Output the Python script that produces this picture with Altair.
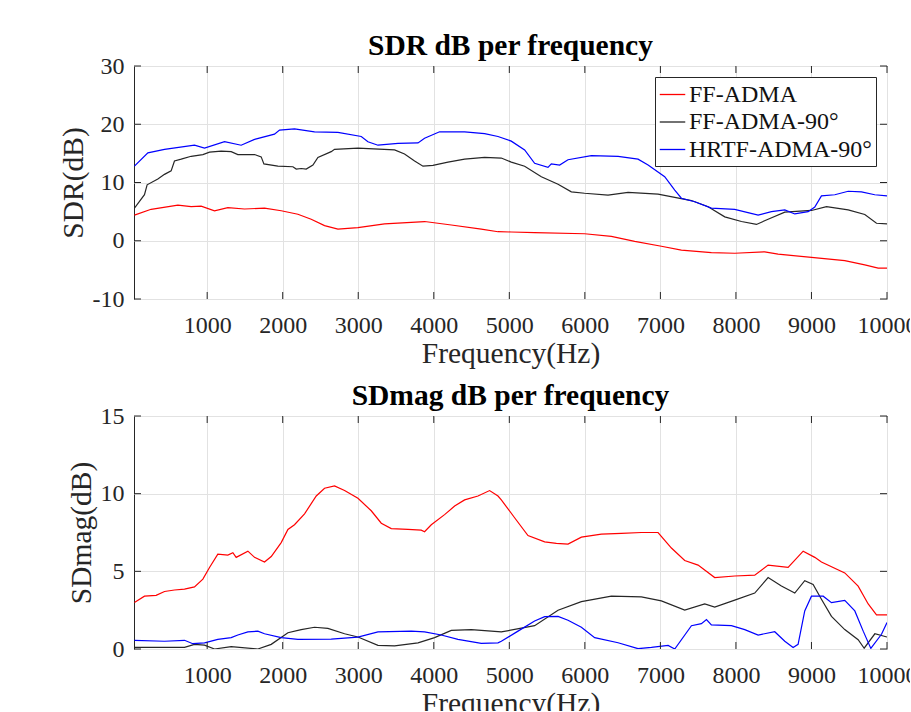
import altair as alt
import pandas as pd

# ---------------- data ----------------
series_names = ["FF-ADMA", "FF-ADMA-90°", "HRTF-ADMA-90°"]
series_colors = ["#ff0000", "#262626", "#0000ff"]

x_ticks = [1000, 2000, 3000, 4000, 5000, 6000, 7000, 8000, 9000, 10000]
sdr_y_ticks = [-10, 0, 10, 20, 30]
sdm_y_ticks = [0, 5, 10, 15]

# SDR panel
sdr_ff_x = [37, 258, 612, 788, 920, 1097, 1274, 1494, 1759, 1980, 2201, 2377, 2554, 2731, 2996,
            3348, 3878, 4232, 4629, 4850, 5026, 5335, 5997, 6351, 6660, 7013, 7278, 7675, 7984,
            8381, 8558, 9000, 9441, 9706, 9883, 10000]
sdr_ff_y = [4.4, 5.4, 6.1, 5.85, 5.95, 5.15, 5.7, 5.45, 5.6, 5.15, 4.55, 3.7, 2.6, 2.0, 2.25,
            2.9, 3.3, 2.7, 2.0, 1.55, 1.5, 1.4, 1.2, 0.75, -0.1, -0.95, -1.6, -2.05, -2.15,
            -1.9, -2.3, -2.85, -3.4, -4.15, -4.7, -4.7]

sdr_ff90_x = [37, 170, 205, 347, 435, 523, 567, 656, 788, 943, 1031, 1185, 1318, 1406, 1627,
              1715, 1751, 1936, 2135, 2179, 2245, 2311, 2400, 2466, 2642, 2686, 2996, 3481, 3613,
              3746, 3857, 3989, 4188, 4408, 4673, 4894, 5026, 5203, 5424, 5645, 5821, 5997, 6307,
              6572, 6969, 7190, 7411, 7632, 7852, 8073, 8272, 8426, 8647, 9000, 9199, 9486, 9706,
              9861, 10000]
sdr_ff90_y = [5.6, 7.9, 9.6, 10.6, 11.4, 12.0, 13.7, 14.0, 14.5, 14.8, 15.2, 15.4, 15.3, 14.8, 14.8,
              14.4, 13.2, 12.8, 12.7, 12.3, 12.4, 12.3, 13.0, 14.3, 15.3, 15.7, 15.9, 15.6, 14.9,
              13.7, 12.8, 12.95, 13.5, 14.0, 14.3, 14.2, 13.5, 12.8, 11.0, 9.7, 8.4, 8.15, 7.85,
              8.3, 8.0, 7.45, 6.9, 5.85, 4.1, 3.3, 2.8, 3.7, 4.9, 5.2, 5.85, 5.3, 4.5,
              3.0, 2.9]

sdr_hrtf_x = [37, 215, 435, 832, 965, 1230, 1450, 1627, 1891, 1958, 2156, 2421, 2731, 3040, 3128,
              3261, 3526, 3791, 3878, 4077, 4408, 4673, 4850, 5026, 5203, 5335, 5512, 5556, 5666,
              5777, 6086, 6440, 6704, 6837, 7057, 7190, 7278, 7455, 7675, 7984, 8294, 8470, 8647,
              8779, 8956, 9044, 9132, 9309, 9486, 9662, 9838, 10000]
sdr_hrtf_y = [12.8, 15.1, 15.7, 16.4, 15.9, 17.0, 16.4, 17.4, 18.3, 19.0, 19.2, 18.7, 18.6, 17.9, 17.0,
              16.4, 16.7, 16.8, 17.6, 18.7, 18.7, 18.4, 17.9, 17.1, 15.6, 13.3, 12.6, 13.2, 13.0,
              13.9, 14.6, 14.5, 14.0, 13.0, 11.0, 8.7, 7.3, 6.7, 5.6, 5.4, 4.4, 5.0, 5.3,
              4.6, 5.0, 5.8, 7.7, 7.9, 8.5, 8.4, 7.9, 7.7]

# SDmag panel
sdm_ff_x = [37, 170, 324, 435, 567, 700, 832, 943, 1031, 1141, 1274, 1340, 1384, 1539, 1627, 1759,
            1848, 1980, 2069, 2156, 2289, 2444, 2554, 2686, 2819, 2996, 3172, 3305, 3437, 3658,
            3834, 3878, 3967, 4143, 4276, 4408, 4585, 4739, 4850, 4894, 5070, 5247, 5468, 5623,
            5777, 5954, 6219, 6483, 6748, 6969, 7146, 7322, 7499, 7719, 7984, 8249, 8426, 8691,
            8890, 9044, 9132, 9441, 9618, 9751, 9861, 10000]
sdm_ff_y = [3.0, 3.4, 3.45, 3.7, 3.8, 3.85, 4.0, 4.5, 5.25, 6.1, 6.05, 6.2, 5.9, 6.3, 5.9, 5.6,
            5.95, 6.85, 7.7, 8.0, 8.7, 9.85, 10.35, 10.5, 10.2, 9.7, 8.9, 8.1, 7.75, 7.7,
            7.65, 7.55, 8.0, 8.65, 9.2, 9.6, 9.85, 10.2, 9.85, 9.6, 8.45, 7.3, 6.9, 6.8,
            6.75, 7.2, 7.4, 7.45, 7.5, 7.5, 6.5, 5.7, 5.4, 4.6, 4.7, 4.75, 5.4, 5.25,
            6.3, 5.9, 5.6, 4.9, 4.05, 2.9, 2.2, 2.2]

sdm_ff90_x = [37, 700, 832, 965, 1097, 1318, 1671, 1848, 2069, 2245, 2421, 2598, 2819, 2996, 3261,
              3481, 3791, 4011, 4232, 4497, 4762, 4894, 5335, 5645, 5954, 6351, 6748, 7013, 7322,
              7587, 7719, 7984, 8249, 8426, 8602, 8779, 8911, 9022, 9132, 9265, 9441, 9618, 9698,
              9839, 10000]
sdm_ff90_y = [0.1, 0.1, 0.3, 0.25, 0.0, 0.15, 0.0, 0.3, 1.05, 1.25, 1.4, 1.33, 0.98, 0.77, 0.23,
              0.2, 0.4, 0.73, 1.2, 1.25, 1.15, 1.1, 1.5, 2.5, 3.05, 3.4, 3.35, 3.1, 2.5,
              2.9, 2.7, 3.15, 3.6, 4.6, 4.05, 3.6, 4.4, 4.15, 3.2, 2.1, 1.25, 0.6, 0.05,
              0.98, 0.77]

sdm_hrtf_x = [37, 435, 700, 810, 965, 1141, 1318, 1406, 1539, 1671, 1759, 1980, 2201, 2642, 2996,
              3261, 3702, 3878, 4099, 4320, 4629, 4850, 4894, 5115, 5335, 5468, 5645, 5777, 5954,
              6130, 6440, 6704, 6881, 7102, 7190, 7411, 7543, 7610, 7675, 7940, 8117, 8294, 8514,
              8647, 8757, 8823, 8911, 9000, 9155, 9265, 9441, 9574, 9685, 9786, 9927, 10000]
sdm_hrtf_y = [0.56, 0.5, 0.56, 0.34, 0.4, 0.62, 0.73, 0.9, 1.1, 1.15, 0.98, 0.73, 0.62, 0.64, 0.77,
              1.1, 1.15, 1.1, 0.9, 0.62, 0.36, 0.4, 0.5, 1.15, 1.8, 2.08, 2.1, 1.85, 1.4,
              0.73, 0.4, 0.02, 0.1, 0.23, 0.0, 1.5, 1.63, 1.9, 1.55, 1.5, 1.25, 0.9, 1.11,
              0.5, 0.1, 0.3, 2.45, 3.4, 3.4, 2.98, 3.13, 2.45, 1.15, 0.04, 0.95, 1.7]


def build_df(parts):
    frames = []
    for name, xs, ys in parts:
        frames.append(pd.DataFrame({"freq": xs, "val": ys, "series": name}))
    return pd.concat(frames, ignore_index=True)


sdr_df = build_df([(series_names[0], sdr_ff_x, sdr_ff_y),
                   (series_names[1], sdr_ff90_x, sdr_ff90_y),
                   (series_names[2], sdr_hrtf_x, sdr_hrtf_y)])
sdm_df = build_df([(series_names[0], sdm_ff_x, sdm_ff_y),
                   (series_names[1], sdm_ff90_x, sdm_ff90_y),
                   (series_names[2], sdm_hrtf_x, sdm_hrtf_y)])

W, H = 753, 233
FONT = "Liberation Serif"
AX = "#262626"
TICK = 7


def panel(df, title, ytitle, ydomain, yticks, show_legend):
    xscale = alt.Scale(domain=[31.25, 10000], nice=False, zero=False)
    yscale = alt.Scale(domain=ydomain, nice=False, zero=False)
    xaxis = alt.Axis(values=x_ticks, title="Frequency(Hz)", labelExpr="datum.value + ''",
                     labelOverlap=False, labelFlush=False)
    yaxis = alt.Axis(values=yticks, title=ytitle, labelExpr="datum.value + ''")
    if show_legend:
        legend = alt.Legend(title=None, orient="top-right", offset=11, padding=4,
                            fillColor="white", strokeColor=AX, symbolType="stroke",
                            symbolSize=650, symbolStrokeWidth=1.3, labelFont=FONT,
                            labelFontSize=24, labelColor="#111111", labelOffset=3,
                            rowPadding=1.5, labelLimit=400)
    else:
        legend = None
    lines = alt.Chart(df).mark_line(clip=True, strokeWidth=1.2).encode(
        x=alt.X("freq:Q", scale=xscale, axis=xaxis, title="Frequency(Hz)"),
        y=alt.Y("val:Q", scale=yscale, axis=yaxis, title=ytitle),
        color=alt.Color("series:N", sort=series_names,
                        scale=alt.Scale(domain=series_names, range=series_colors),
                        legend=legend),
    )
    xt = pd.DataFrame({"t": x_ticks})
    yt = pd.DataFrame({"t": yticks})
    xenc = alt.X("t:Q", scale=xscale, axis=xaxis, title="Frequency(Hz)")
    yenc = alt.Y("t:Q", scale=yscale, axis=yaxis, title=ytitle)
    bt = alt.Chart(xt).mark_rule(color=AX, strokeWidth=1).encode(
        x=xenc, y=alt.value(H), y2=alt.value(H - TICK))
    tt = alt.Chart(xt).mark_rule(color=AX, strokeWidth=1).encode(
        x=xenc, y=alt.value(0), y2=alt.value(TICK))
    lt = alt.Chart(yt).mark_rule(color=AX, strokeWidth=1).encode(
        y=yenc, x=alt.value(0), x2=alt.value(TICK))
    rt = alt.Chart(yt).mark_rule(color=AX, strokeWidth=1).encode(
        y=yenc, x=alt.value(W), x2=alt.value(W - TICK))
    return alt.layer(lines, bt, tt, lt, rt).properties(
        width=W, height=H,
        title=alt.TitleParams(title, font=FONT, fontSize=29.5, fontWeight="bold",
                              color="#000000", offset=-7, anchor="middle"),
    )


top = panel(sdr_df, "SDR dB per frequency", "SDR(dB)", [-10, 30], sdr_y_ticks, True)
bottom = panel(sdm_df, "SDmag dB per frequency", "SDmag(dB)", [0, 15], sdm_y_ticks, False)

chart = alt.vconcat(top, bottom, spacing=12).resolve_scale(
    color="independent", x="independent", y="independent"
).resolve_legend(color="independent").properties(
    padding={"left": 57, "top": 30, "right": -8, "bottom": -7},
    background="white",
).configure_view(
    stroke=AX, strokeWidth=1
).configure_axis(
    labelFont=FONT, labelFontSize=24, labelColor=AX,
    titleFont=FONT, titleFontSize=29.5, titleFontWeight="normal", titleColor=AX,
    ticks=False, domain=False, grid=True, gridColor="#e2e2e2", gridWidth=1,
).configure_axisX(
    labelPadding=14, titlePadding=2,
).configure_axisY(
    labelPadding=10, titlePadding=4,
)

chart.save("out.html", embed_options={"renderer": "svg", "actions": False})
